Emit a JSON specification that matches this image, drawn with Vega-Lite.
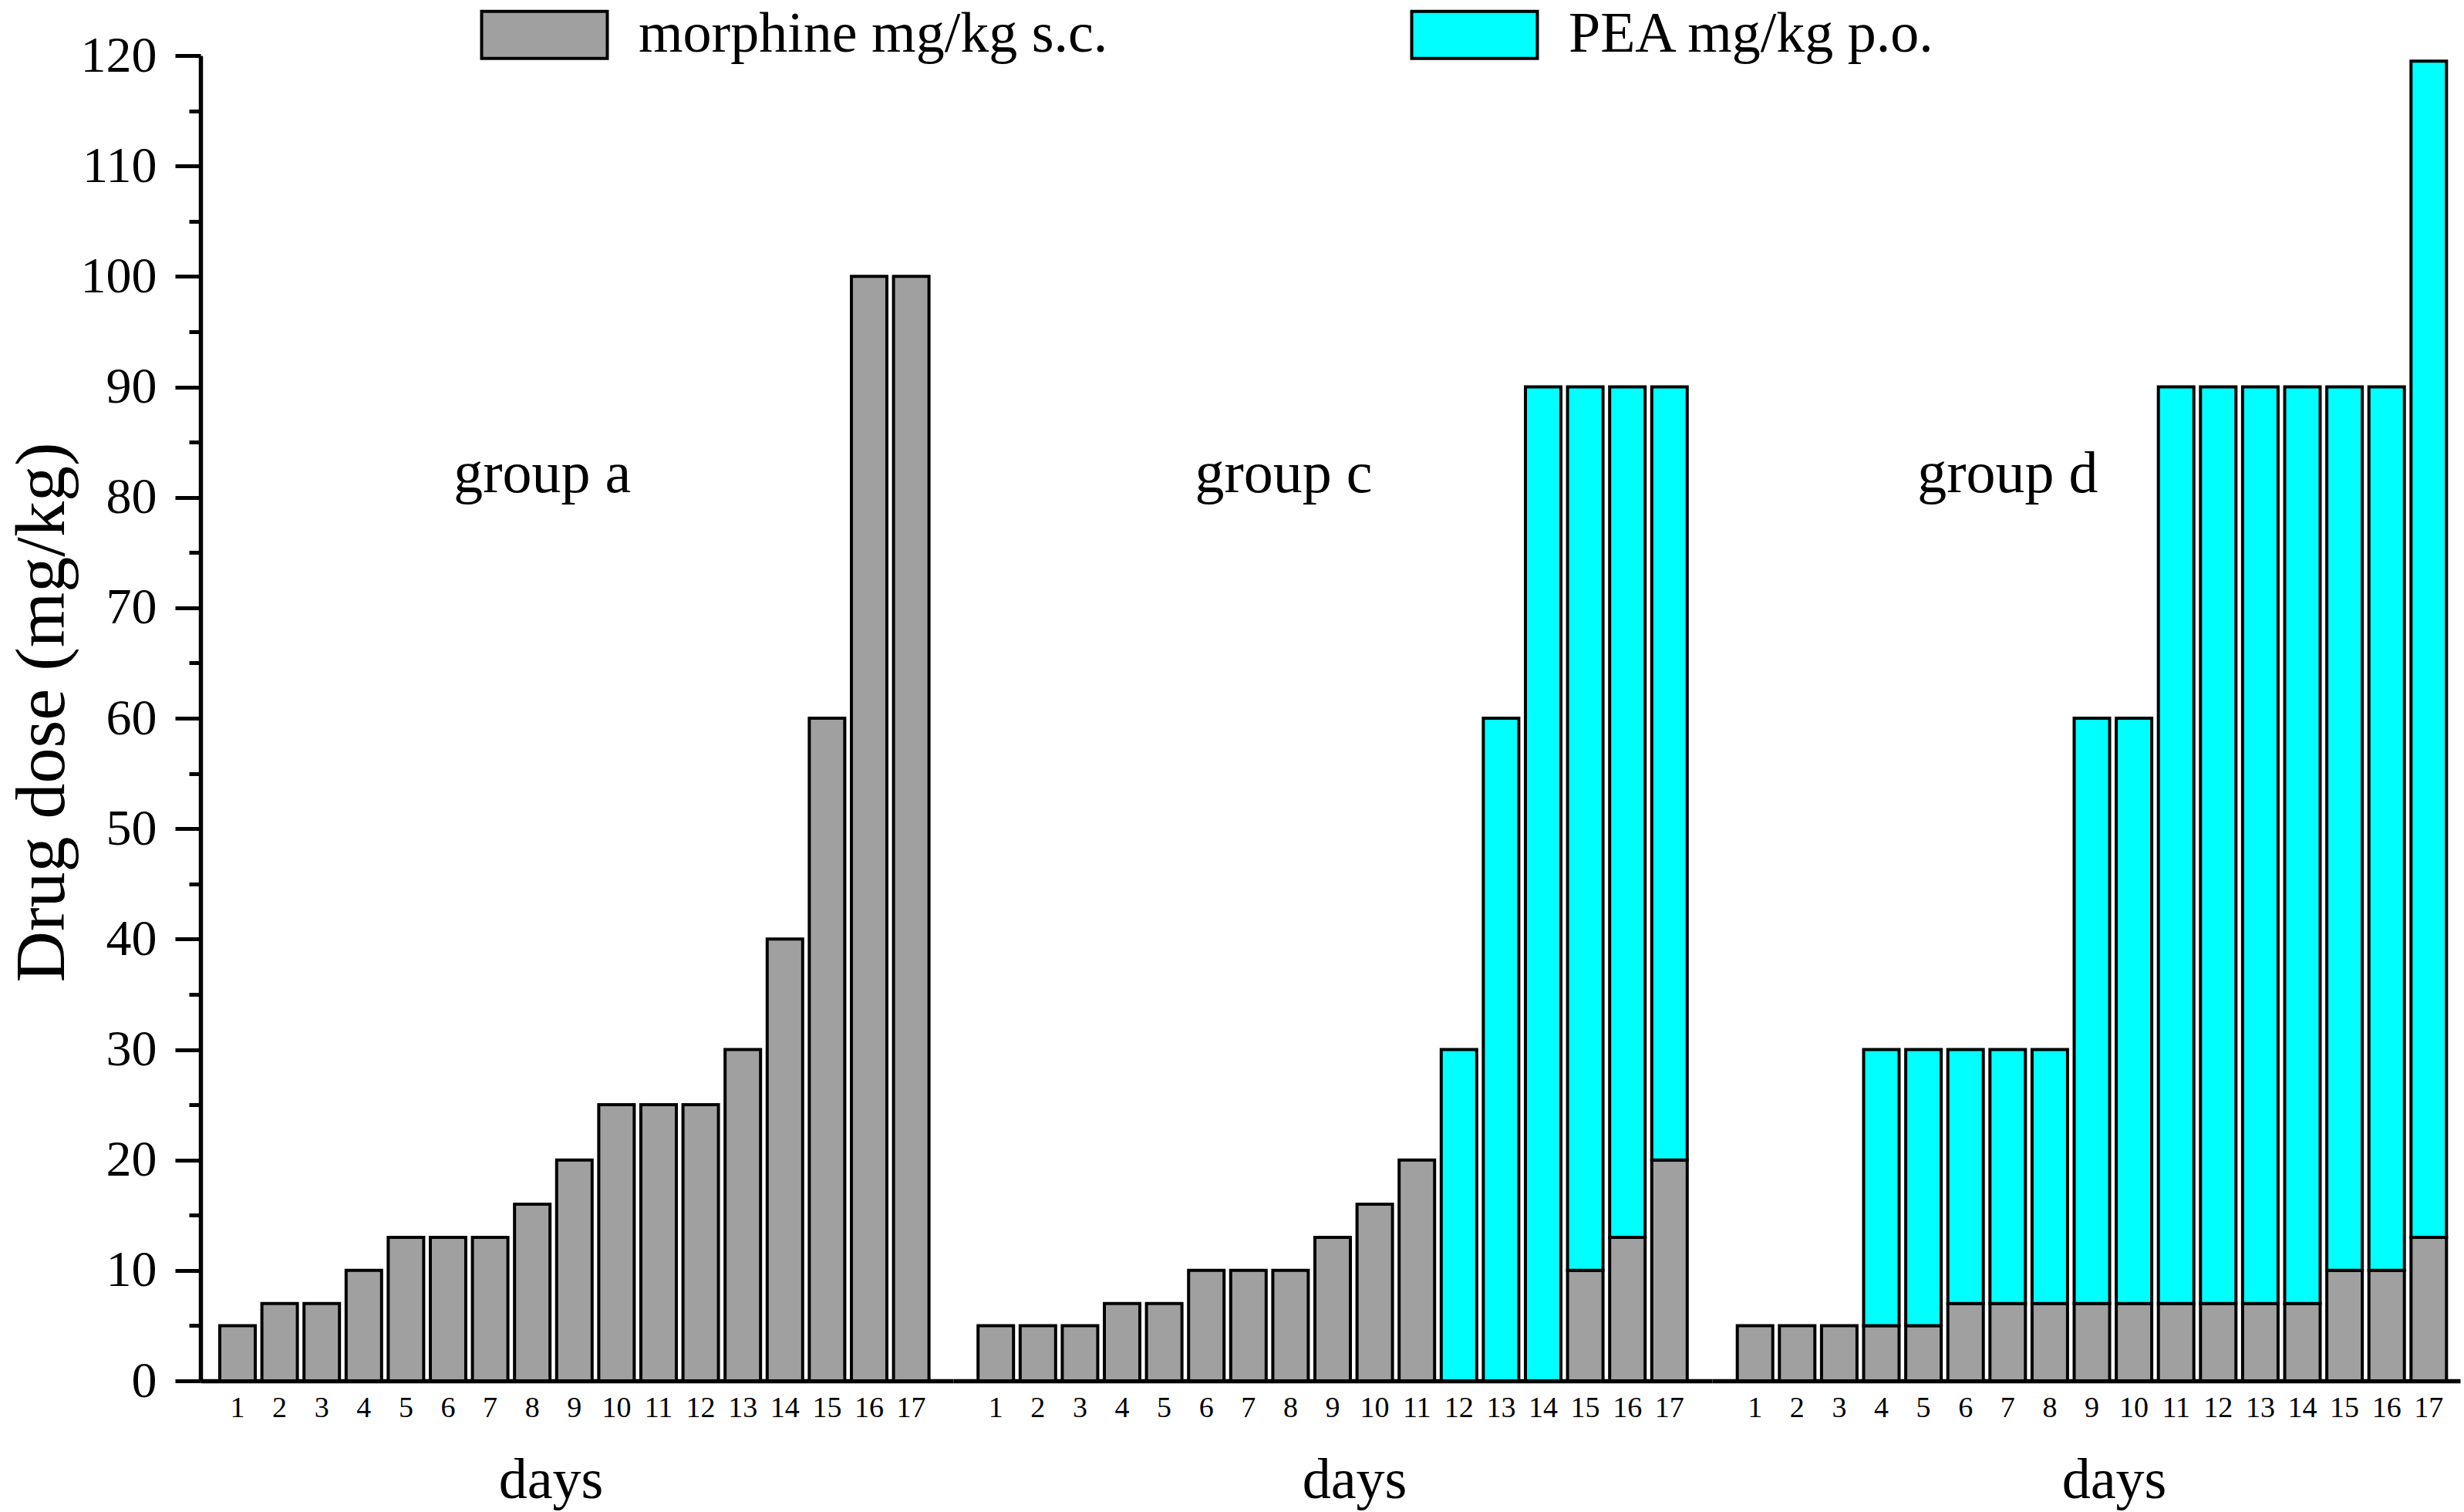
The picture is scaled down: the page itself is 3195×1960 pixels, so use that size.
{
  "$schema": "https://vega.github.io/schema/vega-lite/v6.json",
  "background": "white",
  "padding": {"left": 8, "top": 8, "right": 5, "bottom": 5},
  "bounds": "flush",
  "spacing": 0,
  "data": {
    "values": [
      {"group": "a", "day": 1, "drug": "morphine mg/kg s.c.", "dose": 5},
      {"group": "a", "day": 2, "drug": "morphine mg/kg s.c.", "dose": 7},
      {"group": "a", "day": 3, "drug": "morphine mg/kg s.c.", "dose": 7},
      {"group": "a", "day": 4, "drug": "morphine mg/kg s.c.", "dose": 10},
      {"group": "a", "day": 5, "drug": "morphine mg/kg s.c.", "dose": 13},
      {"group": "a", "day": 6, "drug": "morphine mg/kg s.c.", "dose": 13},
      {"group": "a", "day": 7, "drug": "morphine mg/kg s.c.", "dose": 13},
      {"group": "a", "day": 8, "drug": "morphine mg/kg s.c.", "dose": 16},
      {"group": "a", "day": 9, "drug": "morphine mg/kg s.c.", "dose": 20},
      {"group": "a", "day": 10, "drug": "morphine mg/kg s.c.", "dose": 25},
      {"group": "a", "day": 11, "drug": "morphine mg/kg s.c.", "dose": 25},
      {"group": "a", "day": 12, "drug": "morphine mg/kg s.c.", "dose": 25},
      {"group": "a", "day": 13, "drug": "morphine mg/kg s.c.", "dose": 30},
      {"group": "a", "day": 14, "drug": "morphine mg/kg s.c.", "dose": 40},
      {"group": "a", "day": 15, "drug": "morphine mg/kg s.c.", "dose": 60},
      {"group": "a", "day": 16, "drug": "morphine mg/kg s.c.", "dose": 100},
      {"group": "a", "day": 17, "drug": "morphine mg/kg s.c.", "dose": 100},
      {"group": "c", "day": 1, "drug": "morphine mg/kg s.c.", "dose": 5},
      {"group": "c", "day": 2, "drug": "morphine mg/kg s.c.", "dose": 5},
      {"group": "c", "day": 3, "drug": "morphine mg/kg s.c.", "dose": 5},
      {"group": "c", "day": 4, "drug": "morphine mg/kg s.c.", "dose": 7},
      {"group": "c", "day": 5, "drug": "morphine mg/kg s.c.", "dose": 7},
      {"group": "c", "day": 6, "drug": "morphine mg/kg s.c.", "dose": 10},
      {"group": "c", "day": 7, "drug": "morphine mg/kg s.c.", "dose": 10},
      {"group": "c", "day": 8, "drug": "morphine mg/kg s.c.", "dose": 10},
      {"group": "c", "day": 9, "drug": "morphine mg/kg s.c.", "dose": 13},
      {"group": "c", "day": 10, "drug": "morphine mg/kg s.c.", "dose": 16},
      {"group": "c", "day": 11, "drug": "morphine mg/kg s.c.", "dose": 20},
      {"group": "c", "day": 12, "drug": "PEA mg/kg p.o.", "dose": 30},
      {"group": "c", "day": 13, "drug": "PEA mg/kg p.o.", "dose": 60},
      {"group": "c", "day": 14, "drug": "PEA mg/kg p.o.", "dose": 90},
      {"group": "c", "day": 15, "drug": "morphine mg/kg s.c.", "dose": 10},
      {"group": "c", "day": 15, "drug": "PEA mg/kg p.o.", "dose": 80},
      {"group": "c", "day": 16, "drug": "morphine mg/kg s.c.", "dose": 13},
      {"group": "c", "day": 16, "drug": "PEA mg/kg p.o.", "dose": 77},
      {"group": "c", "day": 17, "drug": "morphine mg/kg s.c.", "dose": 20},
      {"group": "c", "day": 17, "drug": "PEA mg/kg p.o.", "dose": 70},
      {"group": "d", "day": 1, "drug": "morphine mg/kg s.c.", "dose": 5},
      {"group": "d", "day": 2, "drug": "morphine mg/kg s.c.", "dose": 5},
      {"group": "d", "day": 3, "drug": "morphine mg/kg s.c.", "dose": 5},
      {"group": "d", "day": 4, "drug": "morphine mg/kg s.c.", "dose": 5},
      {"group": "d", "day": 4, "drug": "PEA mg/kg p.o.", "dose": 25},
      {"group": "d", "day": 5, "drug": "morphine mg/kg s.c.", "dose": 5},
      {"group": "d", "day": 5, "drug": "PEA mg/kg p.o.", "dose": 25},
      {"group": "d", "day": 6, "drug": "morphine mg/kg s.c.", "dose": 7},
      {"group": "d", "day": 6, "drug": "PEA mg/kg p.o.", "dose": 23},
      {"group": "d", "day": 7, "drug": "morphine mg/kg s.c.", "dose": 7},
      {"group": "d", "day": 7, "drug": "PEA mg/kg p.o.", "dose": 23},
      {"group": "d", "day": 8, "drug": "morphine mg/kg s.c.", "dose": 7},
      {"group": "d", "day": 8, "drug": "PEA mg/kg p.o.", "dose": 23},
      {"group": "d", "day": 9, "drug": "morphine mg/kg s.c.", "dose": 7},
      {"group": "d", "day": 9, "drug": "PEA mg/kg p.o.", "dose": 53},
      {"group": "d", "day": 10, "drug": "morphine mg/kg s.c.", "dose": 7},
      {"group": "d", "day": 10, "drug": "PEA mg/kg p.o.", "dose": 53},
      {"group": "d", "day": 11, "drug": "morphine mg/kg s.c.", "dose": 7},
      {"group": "d", "day": 11, "drug": "PEA mg/kg p.o.", "dose": 83},
      {"group": "d", "day": 12, "drug": "morphine mg/kg s.c.", "dose": 7},
      {"group": "d", "day": 12, "drug": "PEA mg/kg p.o.", "dose": 83},
      {"group": "d", "day": 13, "drug": "morphine mg/kg s.c.", "dose": 7},
      {"group": "d", "day": 13, "drug": "PEA mg/kg p.o.", "dose": 83},
      {"group": "d", "day": 14, "drug": "morphine mg/kg s.c.", "dose": 7},
      {"group": "d", "day": 14, "drug": "PEA mg/kg p.o.", "dose": 83},
      {"group": "d", "day": 15, "drug": "morphine mg/kg s.c.", "dose": 10},
      {"group": "d", "day": 15, "drug": "PEA mg/kg p.o.", "dose": 80},
      {"group": "d", "day": 16, "drug": "morphine mg/kg s.c.", "dose": 10},
      {"group": "d", "day": 16, "drug": "PEA mg/kg p.o.", "dose": 80},
      {"group": "d", "day": 17, "drug": "morphine mg/kg s.c.", "dose": 13},
      {"group": "d", "day": 17, "drug": "PEA mg/kg p.o.", "dose": 106.5}
    ]
  },
  "hconcat": [
    {
      "width": 976,
      "height": 1718,
      "layer": [
        {
          "transform": [{"filter": "datum.group === 'a'"}],
          "mark": {"type": "bar", "stroke": "black", "strokeWidth": 4},
          "encoding": {
            "x": {
              "field": "day", "type": "ordinal",
              "scale": {"paddingInner": 0.1575, "paddingOuter": 0.5165, "align": 0.443},
              "axis": {"title": "days", "titleX": 454}
            },
            "y": {
              "field": "dose", "type": "quantitative", "stack": "zero",
              "scale": {"domain": [0, 120], "nice": false},
              "axis": {
                "title": "Drug dose (mg/kg)",
                "values": [0, 10, 20, 30, 40, 50, 60, 70, 80, 90, 100, 110, 120],
                "tickSize": 33, "tickWidth": 5, "tickColor": "black",
                "labelFontSize": 66, "labelPadding": 24,
                "titleFontSize": 92, "titleX": -178, "titleY": 851,
                "titleBaseline": "alphabetic", "titleAlign": "center", "titleAngle": 270
              }
            },
            "color": {
              "field": "drug", "type": "nominal",
              "scale": {"domain": ["morphine mg/kg s.c.", "PEA mg/kg p.o."], "range": ["#a0a0a0", "#00ffff"]},
              "legend": {
                "title": null, "orient": "none", "legendX": 409, "legendY": -64,
                "direction": "horizontal", "columns": 2,
                "symbolType": "M-2.672,-1H2.672V1H-2.672Z", "symbolSize": 3721,
                "symbolStrokeColor": "black", "symbolStrokeWidth": 4, "symbolOpacity": 1,
                "labelFont": "Liberation Serif", "labelFontSize": 74, "labelColor": "black",
                "labelOffset": 85, "labelLimit": 3000, "columnPadding": 385, "padding": 0
              }
            },
            "order": {"field": "drug", "sort": "descending"}
          }
        },
        {
          "data": {"values": [{"label": "group a"}]},
          "mark": {"type": "text", "font": "Liberation Serif", "fontSize": 76, "baseline": "alphabetic", "align": "center", "dx": 13, "color": "black"},
          "encoding": {
            "x": {"datum": 8, "type": "ordinal", "title": "days"},
            "y": {
              "datum": 80.5, "type": "quantitative",
              "axis": {
                "orient": "left", "title": null, "labels": false, "domain": false,
                "values": [5, 15, 25, 35, 45, 55, 65, 75, 85, 95, 105, 115],
                "tickSize": 15, "tickWidth": 5, "tickColor": "black"
              }
            },
            "text": {"field": "label"}
          }
        }
      ],
      "resolve": {"axis": {"y": "independent"}}
    },
    {
      "width": 984,
      "height": 1718,
      "layer": [
        {
          "transform": [{"filter": "datum.group === 'c'"}],
          "mark": {"type": "bar", "stroke": "black", "strokeWidth": 4},
          "encoding": {
            "x": {
              "field": "day", "type": "ordinal",
              "scale": {"paddingInner": 0.1575, "paddingOuter": 0.59, "align": 0.5},
              "axis": {"title": "days", "titleX": 520}
            },
            "y": {
              "field": "dose", "type": "quantitative", "stack": "zero",
              "scale": {"domain": [0, 120], "nice": false},
              "axis": null
            },
            "color": {
              "field": "drug", "type": "nominal",
              "scale": {"domain": ["morphine mg/kg s.c.", "PEA mg/kg p.o."], "range": ["#a0a0a0", "#00ffff"]}
            },
            "order": {"field": "drug", "sort": "descending"}
          }
        },
        {
          "data": {"values": [{"label": "group c"}]},
          "mark": {"type": "text", "font": "Liberation Serif", "fontSize": 76, "baseline": "alphabetic", "align": "center", "dx": -9, "color": "black"},
          "encoding": {
            "x": {"datum": 8, "type": "ordinal", "title": "days"},
            "y": {"datum": 80.5, "type": "quantitative", "axis": null},
            "text": {"field": "label"}
          }
        }
      ]
    },
    {
      "width": 970,
      "height": 1718,
      "layer": [
        {
          "transform": [{"filter": "datum.group === 'd'"}],
          "mark": {"type": "bar", "stroke": "black", "strokeWidth": 4},
          "encoding": {
            "x": {
              "field": "day", "type": "ordinal",
              "scale": {"paddingInner": 0.1575, "paddingOuter": 0.4615, "align": 0.649},
              "axis": {"title": "days", "titleX": 521}
            },
            "y": {
              "field": "dose", "type": "quantitative", "stack": "zero",
              "scale": {"domain": [0, 120], "nice": false},
              "axis": null
            },
            "color": {
              "field": "drug", "type": "nominal",
              "scale": {"domain": ["morphine mg/kg s.c.", "PEA mg/kg p.o."], "range": ["#a0a0a0", "#00ffff"]}
            },
            "order": {"field": "drug", "sort": "descending"}
          }
        },
        {
          "data": {"values": [{"label": "group d"}]},
          "mark": {"type": "text", "font": "Liberation Serif", "fontSize": 76, "baseline": "alphabetic", "align": "center", "dx": 0, "color": "black"},
          "encoding": {
            "x": {"datum": 7, "type": "ordinal", "title": "days"},
            "y": {"datum": 80.5, "type": "quantitative", "axis": null},
            "text": {"field": "label"}
          }
        }
      ]
    }
  ],
  "config": {
    "view": {"stroke": null},
    "axis": {
      "grid": false,
      "domainColor": "black", "domainWidth": 5.5,
      "labelFont": "Liberation Serif", "titleFont": "Liberation Serif",
      "labelColor": "black", "titleColor": "black", "titleFontWeight": "normal"
    },
    "axisX": {
      "ticks": false, "labelAngle": 0, "labelFontSize": 38, "labelPadding": 16,
      "titleFontSize": 74, "titlePadding": 39, "titleAlign": "center"
    }
  }
}
